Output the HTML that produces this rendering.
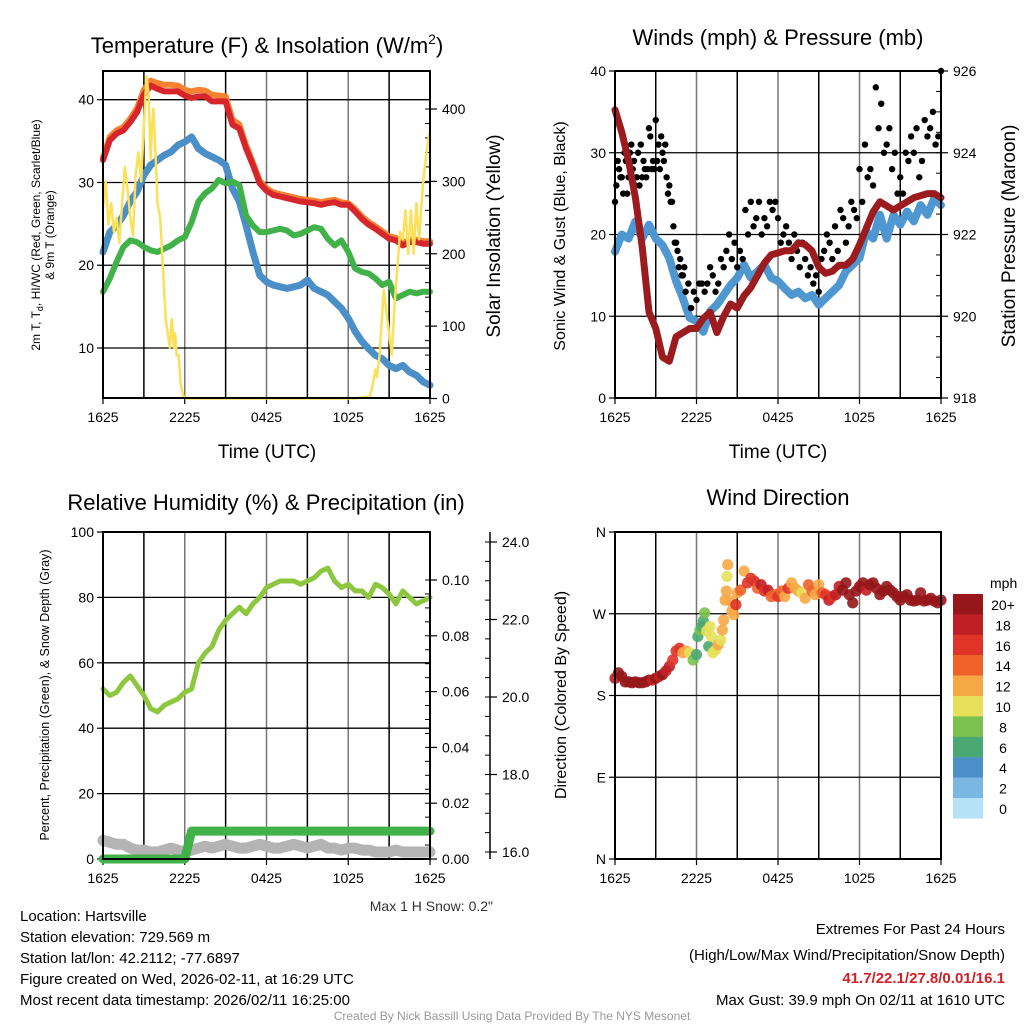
<!DOCTYPE html>
<html><head><meta charset="utf-8"><style>
html,body{margin:0;padding:0;background:#fff;}
svg{display:block;font-family:"Liberation Sans",Arial,sans-serif;}
</style></head><body>
<svg id="fig" width="1024" height="1024" viewBox="0 0 1024 1024" xmlns="http://www.w3.org/2000/svg">
<rect x="0" y="0" width="1024" height="1024" fill="#fff"/>
<text x="267" y="53" font-size="22" text-anchor="middle">Temperature (F) &amp; Insolation (W/m<tspan font-size="14" dy="-9">2</tspan><tspan dy="9">)</tspan></text>
<text x="778" y="45" font-size="22" text-anchor="middle">Winds (mph) &amp; Pressure (mb)</text>
<text x="266" y="510" font-size="22" text-anchor="middle">Relative Humidity (%) &amp; Precipitation (in)</text>
<text x="778" y="505" font-size="22" text-anchor="middle">Wind Direction</text>

<text transform="translate(40,235) rotate(-90)" font-size="12" text-anchor="middle">2m T, T<tspan font-size="9" dy="3">d</tspan><tspan dy="-3">, HI/WC (Red, Green, Scarlet/Blue)</tspan></text>
<text transform="translate(54,235) rotate(-90)" font-size="12" text-anchor="middle">&amp; 9m T (Orange)</text>
<text transform="translate(500,236) rotate(-90)" font-size="19" text-anchor="middle">Solar Insolation (Yellow)</text>
<text x="267" y="458" font-size="19" text-anchor="middle">Time (UTC)</text>
<text transform="translate(565,236) rotate(-90)" font-size="16" text-anchor="middle">Sonic Wind &amp; Gust (Blue, Black)</text>
<text transform="translate(1015,236) rotate(-90)" font-size="19" text-anchor="middle">Station Pressure (Maroon)</text>
<text x="778" y="458" font-size="19" text-anchor="middle">Time (UTC)</text>
<text transform="translate(49,695) rotate(-90)" font-size="12.5" text-anchor="middle">Percent, Precipitation (Green), &amp; Snow Depth (Gray)</text>
<text x="493" y="911" font-size="14" text-anchor="end" fill="#333">Max 1 H Snow: 0.2"</text>
<text transform="translate(566,695) rotate(-90)" font-size="16" text-anchor="middle">Direction (Colored By Speed)</text>
<text x="990" y="588" font-size="14">mph</text>

<g font-size="15">
<text x="20" y="921">Location: Hartsville</text>
<text x="20" y="942">Station elevation: 729.569 m</text>
<text x="20" y="963">Station lat/lon: 42.2112; -77.6897</text>
<text x="20" y="984">Figure created on Wed, 2026-02-11, at 16:29 UTC</text>
<text x="20" y="1005">Most recent data timestamp: 2026/02/11 16:25:00</text>
</g>
<g font-size="15" text-anchor="end">
<text x="1005" y="934">Extremes For Past 24 Hours</text>
<text x="1005" y="960">(High/Low/Max Wind/Precipitation/Snow Depth)</text>
<text x="1005" y="983" fill="#d0202a" font-weight="bold">41.7/22.1/27.8/0.01/16.1</text>
<text x="1005" y="1005">Max Gust: 39.9 mph On 02/11 at 1610 UTC</text>
</g>
<text x="512" y="1020" font-size="12" text-anchor="middle" fill="#999">Created By Nick Bassill Using Data Provided By The NYS Mesonet</text>
</svg>
<script>
// ---- data (half-hourly, hours 0..24) ----
const xTickLabels = ['1625','2225','0425','1025','1625'];
const xTickHours = [0,6,12,18,24];
const tempRed = [32.7,35.1,35.9,36.3,37.3,38.5,40.6,41.7,41.3,41.0,41.0,41.0,40.5,40.2,40.4,40.4,39.8,39.8,39.8,37.0,36.5,34.1,32.1,29.9,29.0,28.5,28.3,28.1,27.9,27.7,27.6,27.5,27.3,27.5,27.6,27.3,27.3,26.5,25.6,24.9,24.4,23.8,23.2,23.0,22.4,22.8,22.8,22.6,22.6];
const tempOrange = [33.0,35.5,36.3,36.7,37.7,39.0,41.2,42.3,42.0,41.8,41.8,41.7,41.2,41.0,41.2,41.1,40.6,40.5,40.4,37.6,37.0,34.5,32.4,30.2,29.3,28.8,28.6,28.4,28.2,28.0,27.9,27.8,27.6,27.8,27.9,27.6,27.5,26.8,25.9,25.2,24.7,24.1,23.5,23.3,22.7,23.1,23.1,22.9,22.9];
const tempBlue = [21.6,24.0,24.8,26.0,27.7,28.9,30.9,32.1,32.7,33.3,33.7,34.5,34.9,35.5,34.1,33.5,33.1,32.7,32.1,29.3,27.7,24.8,21.6,18.8,18.0,17.6,17.4,17.2,17.4,17.6,18.2,17.2,16.8,16.4,15.6,14.8,13.6,12.0,10.8,9.9,9.1,8.7,7.9,7.5,7.9,7.1,6.7,5.9,5.5];
const tempGreen = [16.8,18.4,20.4,22.2,23.0,22.8,22.2,21.8,21.6,22.0,22.4,23.0,23.4,25.2,27.7,28.7,29.3,30.3,29.9,30.1,29.7,26.0,24.8,24.0,24.0,24.2,24.4,24.2,23.6,23.8,24.2,24.6,24.4,23.2,22.4,23.0,21.6,19.6,19.2,19.0,18.4,17.6,18.0,16.0,16.4,16.8,16.6,16.8,16.8];
const solarHours = [0,0.2,0.4,0.6,0.8,1.0,1.2,1.4,1.6,1.8,2.0,2.2,2.4,2.6,2.8,3.0,3.2,3.35,3.5,3.6,3.7,3.85,4.0,4.2,4.4,4.6,4.75,4.9,5.05,5.2,5.3,5.4,5.55,5.7,5.9,6.1,18.5,19.6,19.8,20.0,20.1,20.3,20.6,20.8,21.0,21.2,21.4,21.6,21.8,22.0,22.2,22.4,22.6,22.8,23.0,23.2,23.5,23.8,24.0];
const solarVals = [263,300,240,270,230,250,215,270,320,290,250,225,310,340,300,380,445,420,330,380,400,340,270,250,180,110,90,70,110,70,90,60,60,20,3,0,0,3,20,40,30,60,150,120,90,60,130,180,230,220,260,200,260,200,270,220,300,350,370];
const windSpeed = [17.9,20.0,19.5,21.6,19.5,21.2,19.5,18.7,17.1,14.3,12.2,9.8,9.4,8.1,10.6,11.4,12.6,13.8,14.7,16.3,14.7,15.5,16.3,14.7,14.3,13.4,12.6,13.0,12.2,12.6,11.4,12.2,13.0,13.8,15.5,16.3,17.1,20.4,19.5,22.4,19.5,22.4,21.2,22.8,21.6,23.6,22.4,24.4,23.6];
const pressure = [925.05,924.5,923.8,922.9,921.7,920.1,919.7,919.0,918.9,919.5,919.6,919.7,919.7,919.95,920.1,919.6,920.0,920.3,920.2,920.5,920.7,921.0,921.3,921.5,921.55,921.6,921.6,921.8,921.75,921.6,921.2,921.05,921.1,921.25,921.25,921.4,921.75,922.15,922.55,922.8,922.7,922.6,922.7,922.8,922.9,922.95,923.0,923.0,922.9];
const gustHours = [0,0.1,0.2,0.3,0.4,0.5,0.6,0.7,0.8,0.9,1.0,1.1,1.2,1.3,1.4,1.5,1.6,1.7,1.8,1.9,2.0,2.1,2.2,2.3,2.4,2.5,2.6,2.7,2.8,2.9,3.0,3.1,3.2,3.3,3.4,3.5,3.6,3.7,3.8,3.9,4.0,4.1,4.2,4.3,4.4,4.5,4.6,4.7,4.8,4.9,5.0,5.1,5.2,5.4,5.6,5.8,6.0,6.2,6.4,6.6,6.8,7.0,7.2,7.4,7.6,7.8,8.0,8.2,8.4,8.6,8.8,9.0,9.2,9.4,9.6,9.8,10.0,10.2,10.4,10.6,10.8,11.0,11.2,11.4,11.6,11.8,12.0,12.2,12.4,12.6,12.8,13.0,13.2,13.4,13.6,13.8,14.0,14.2,14.4,14.6,14.8,15.0,15.2,15.4,15.6,15.8,16.0,16.2,16.4,16.6,16.8,17.0,17.2,17.4,17.6,17.8,18.0,18.2,18.4,18.6,18.8,19.0,19.2,19.4,19.6,19.8,20.0,20.2,20.4,20.6,20.8,21.0,21.2,21.4,21.6,21.8,22.0,22.2,22.4,22.6,22.8,23.0,23.2,23.4,23.6,23.8,24.0];
const gustVals = [24,26,29,28,27,27,25,30,29,25,27,30,31,28,29,26,27,30,26,31,27,29,28,27,28,33,32,28,29,28,34,29,31,28,32,30,29,31,27,25,26,24,24,21,19,19,18,16,17,15,15,16,13,14,11,13,12,14,14,13,14,16,15,13,14,17,16,18,20,17,19,16,18,17,23,20,24,21,22,24,20,22,21,24,23,24,22,19,20,21,19,17,20,18,16,19,17,15,16,14,15,13,17,18,20,19,17,21,18,23,22,19,21,24,23,22,28,24,31,27,28,26,38,33,36,30,31,33,28,30,25,27,25,30,29,32,30,33,27,29,34,32,33,35,31,32,40];
const rhVals = [52,50,51,54,56,53,50,46,45,47,48,49,51,52,60,63,65,70,73,75,77,75,78,80,83,84,85,85,85,84,85,86,88,89,85,83,84,82,82,80,84,83,81,78,82,80,78,79,80];
const precipVals = [0,0,0,0,0,0,0,0,0,0,0,0,0,0.01,0.01,0.01,0.01,0.01,0.01,0.01,0.01,0.01,0.01,0.01,0.01,0.01,0.01,0.01,0.01,0.01,0.01,0.01,0.01,0.01,0.01,0.01,0.01,0.01,0.01,0.01,0.01,0.01,0.01,0.01,0.01,0.01,0.01,0.01,0.01];
const snowVals = [16.3,16.25,16.2,16.2,16.1,16.05,16.05,16.0,16.0,16.05,16.1,16.05,16.0,16.05,16.1,16.15,16.1,16.15,16.2,16.15,16.1,16.1,16.15,16.2,16.15,16.1,16.1,16.15,16.2,16.15,16.1,16.15,16.2,16.1,16.1,16.05,16.1,16.1,16.05,16.05,16.0,16.0,16.0,16.05,16.0,16.0,16.0,16.0,16.0];
const dirHours = [0,0.25,0.5,0.75,1,1.25,1.5,1.75,2,2.25,2.5,2.75,3,3.25,3.5,3.75,4,4.25,4.5,4.75,5,5.25,5.5,5.75,6,6.1,6.25,6.4,6.5,6.6,6.75,6.9,7.0,7.1,7.2,7.4,7.6,7.8,7.9,8.0,8.1,8.2,8.25,8.3,8.5,8.6,8.75,8.9,9.0,9.25,9.5,9.75,10,10.25,10.5,10.75,11,11.25,11.5,11.75,12,12.25,12.5,12.75,13,13.25,13.5,13.75,14,14.25,14.5,14.75,15,15.25,15.5,15.75,16,16.25,16.5,16.75,17,17.25,17.5,17.75,18,18.25,18.5,18.75,19,19.25,19.5,19.75,20,20.25,20.5,20.75,21,21.25,21.5,21.75,22,22.25,22.5,22.75,23,23.25,23.5,23.75,24];
const dirVals = [199,205,201,195,195,194,195,194,194,195,197,197,199,201,203,207,212,219,229,232,227,229,227,219,225,245,252,256,262,271,251,234,256,245,227,230,236,241,252,263,285,295,311,324,284,273,269,280,293,296,317,304,309,306,298,302,295,296,289,291,289,295,289,298,304,298,295,293,287,302,295,291,302,293,291,285,289,291,300,296,304,291,282,295,300,304,296,302,304,298,291,295,300,296,293,289,285,289,291,285,284,285,293,284,285,287,284,282,285];
const dirSpeed = [18,20,20,20,20,20,20,20,20,20,20,19,20,19,20,18,18,17,17,16,13,12,11,8,6,7,8,6,7,8,10,6,10,10,10,10,12,10,12,12,12,12,10,12,12,12,12,16,13,14,12,16,17,16,14,18,16,18,14,14,16,14,12,16,12,12,13,10,12,14,14,12,12,14,16,18,16,18,18,20,20,20,20,20,20,20,18,20,20,20,20,20,20,20,20,20,20,20,20,20,20,20,20,20,20,20,20,20,20];
const cbLabels = ['20+','18','16','14','12','10','8','6','4','2','0'];
const cbColors = ['#961619','#c11f26','#e03428','#f0622a','#f7a845','#e6e05a','#7cc24e','#4aa873','#4a8fc7','#7ab8e3','#b5e2f7'];

// ---- helpers ----
const NS='http://www.w3.org/2000/svg';
const svg=document.getElementById('fig');
function mk(tag,attrs,parent){const e=document.createElementNS(NS,tag);for(const k in attrs)e.setAttribute(k,attrs[k]);(parent||svg).appendChild(e);return e;}
function lin(d0,d1,r0,r1){return v=>r0+(v-d0)/(d1-d0)*(r1-r0);}
function halfHours(arr){return arr.map((v,i)=>i*0.5);}
function speedColor(s){const idx=Math.min(10,Math.floor(s/2));return cbColors[10-idx];}

function panel(name,P,leftTicks,leftScale,leftFmt){
  const g=mk('g',{});
  
  
  const xs=lin(0,24,P.x0,P.x1);
  for(let h=3;h<24;h+=3){const l=mk('line',{x1:xs(h),x2:xs(h),y1:P.y0,y2:P.y1,stroke:(h%6===0)?'#777':'#000','stroke-width':1.5},g);
    
    }
  leftTicks.forEach(v=>{const y=leftScale(v);
    if(y>P.y0+1&&y<P.y1-1){const l=mk('line',{x1:P.x0,x2:P.x1,y1:y,y2:y,stroke:'#000','stroke-width':1.3},g);
      
      }
    mk('line',{x1:P.x0-6,x2:P.x0,y1:y,y2:y,stroke:'#000','stroke-width':1.2},g);
    const t=mk('text',{x:P.x0-9,y:y+5,'font-size':14,'text-anchor':'end'},g);
    t.textContent=leftFmt(v);
    
    
  });
  xTickHours.forEach((h,i)=>{mk('line',{x1:xs(h),x2:xs(h),y1:P.y1,y2:P.y1+6,stroke:'#000','stroke-width':1.2},g);
    const t=mk('text',{x:xs(h),y:P.y1+24,'font-size':14,'text-anchor':'middle'},g);
    t.textContent=xTickLabels[i];
    
    });
  return {g,xs};
}
function frame(P,g){mk('rect',{x:P.x0,y:P.y0,width:P.x1-P.x0,height:P.y1-P.y0,fill:'none',stroke:'#000','stroke-width':2},g);}
function rightAxis(P,ticks,scale,fmt,minorStep,g,x){
  const ax=x||P.x1;
  ticks.forEach(v=>{const y=scale(v);mk('line',{x1:ax,x2:ax+7,y1:y,y2:y,stroke:'#000','stroke-width':1.2},g);
    const t=mk('text',{x:ax+12,y:y+5,'font-size':14},g);t.textContent=fmt(v);
    
    });
  if(minorStep){const a=ticks[0],b=ticks[ticks.length-1];
    for(let v=a;v<=b+1e-9;v+=minorStep){const y=scale(v);mk('line',{x1:ax-5,x2:ax,y1:y,y2:y,stroke:'#000','stroke-width':1},g);}}
}
function pline(xsArr,ysArr,xs,ys,style,name,parent){
  const pts=xsArr.map((h,i)=>xs(h).toFixed(1)+','+ys(ysArr[i]).toFixed(1)).join(' ');
  const e=mk('polyline',Object.assign({points:pts,fill:'none','stroke-linejoin':'round','stroke-linecap':'round'},style),parent);
  
  
  return e;
}

// ---- Panel 1: temperature ----
const P1={x0:103,x1:430,y0:71,y1:398};
const yT=lin(40,10,99.7,348);
const yS=lin(0,400,398.5,109);
const a1=panel('temperature',P1,[10,20,30,40],yT,v=>String(v));
rightAxis(P1,[0,100,200,300,400],yS,v=>String(v),20,a1.g);
const hh=halfHours(tempRed);
pline(hh,tempBlue,a1.xs,yT,{stroke:'#4a8fc7','stroke-width':7},'dewpoint-line',svg);
pline(hh,tempGreen,a1.xs,yT,{stroke:'#41b24a','stroke-width':6},'heat-index-windchill-line',svg);
pline(hh,tempOrange,a1.xs,yT,{stroke:'#f58131','stroke-width':6},'temp-9m-line',svg);
pline(hh,tempRed,a1.xs,yT,{stroke:'#d7262b','stroke-width':6},'temp-2m-line',svg);
pline(solarHours,solarVals.map(v=>Math.min(v,448)),a1.xs,yS,{stroke:'#fbe05a','stroke-width':2.5},'solar-insolation-line',svg);
frame(P1,svg);

// ---- Panel 2: winds ----
const P2={x0:615,x1:941,y0:71,y1:398};
const yW=lin(0,40,398,71);
const yP=lin(918,926,398,71);
const a2=panel('winds',P2,[0,10,20,30,40],yW,v=>String(v));
rightAxis(P2,[918,920,922,924,926],yP,v=>String(v),0.5,a2.g);
pline(halfHours(windSpeed),windSpeed,a2.xs,yW,{stroke:'#4f97d0','stroke-width':8},'sonic-wind-line',svg);
gustHours.forEach((h,i)=>{const c=mk('circle',{cx:a2.xs(h),cy:yW(gustVals[i]),r:3.2,fill:'#000'});
  
  });
pline(halfHours(pressure),pressure,a2.xs,yP,{stroke:'#9b1b1e','stroke-width':7},'station-pressure-line',svg);
frame(P2,svg);

// ---- Panel 3: RH / precip / snow ----
const P3={x0:103,x1:430,y0:532,y1:859};
const yRH=lin(0,100,859,532);
const yPr=lin(0,0.10,859,580);
const ySn=lin(16,24,852,542);
const a3=panel('humidity',P3,[0,20,40,60,80,100],yRH,v=>String(v));
rightAxis(P3,[0,0.02,0.04,0.06,0.08,0.10],yPr,v=>v.toFixed(2),0.005,a3.g);
const snAxis=mk('line',{x1:490,x2:490,y1:532,y2:859,stroke:'#000','stroke-width':1.5});


rightAxis(P3,[16,18,20,22,24],ySn,v=>v.toFixed(1),0.5,a3.g,490);
pline(halfHours(snowVals),snowVals,a3.xs,ySn,{stroke:'#b4b4b4','stroke-width':11},'snow-depth-line',svg);
pline(halfHours(precipVals),precipVals,a3.xs,yPr,{stroke:'#41b24a','stroke-width':9},'precipitation-line',svg);
pline(halfHours(rhVals),rhVals,a3.xs,yRH,{stroke:'#8dc63f','stroke-width':5},'relative-humidity-line',svg);
frame(P3,svg);

// ---- Panel 4: wind direction ----
const P4={x0:615,x1:941,y0:532,y1:859};
const yD=lin(0,360,859,532);
const dirLabels=['N','E','S','W','N'];
const a4=panel('direction',P4,[0,90,180,270,360],yD,v=>dirLabels[v/90]);
dirHours.forEach((h,i)=>{const c=mk('circle',{cx:a4.xs(h),cy:yD(dirVals[i]),r:5.6,fill:speedColor(dirSpeed[i]),'fill-opacity':0.9});
  
  });
frame(P4,svg);
// colorbar
cbColors.forEach((c,i)=>{const r=mk('rect',{x:953,y:594+i*20.4,width:30,height:20.6,fill:c});
  
  
  const t=mk('text',{x:1003,y:594+i*20.4+16,'font-size':14,'text-anchor':'middle'});
  t.textContent=cbLabels[i];
  
  });
</script>
</body></html>
